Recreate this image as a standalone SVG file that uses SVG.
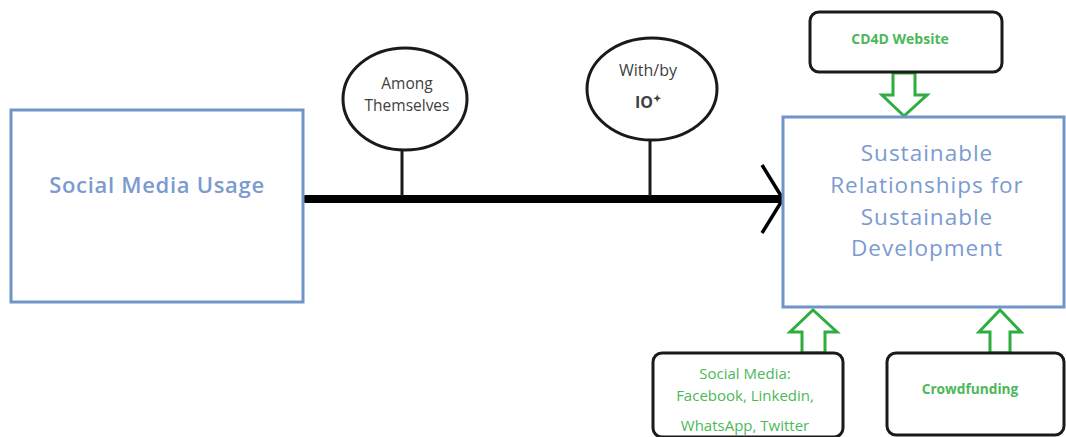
<svg xmlns="http://www.w3.org/2000/svg" width="1066" height="437" viewBox="0 0 1066 437">
<style>
.bbox{fill:#fff;stroke:#7094c8;stroke-width:3}
.rbox{fill:#fff;stroke:#1a1a1a;stroke-width:3}
.ell{fill:#fff;stroke:#1a1a1a;stroke-width:3}
.btxt{font-family:"Open Sans","Noto Sans",sans-serif;fill:#7b9bd0;text-anchor:middle}
.gtxt{font-family:"Open Sans","Noto Sans",sans-serif;fill:#4cb85a;text-anchor:middle}
.dtxt{font-family:"Open Sans","Noto Sans",sans-serif;fill:#404040;text-anchor:middle}
.garrow{fill:#fff;stroke:#2fae3f;stroke-width:3;stroke-linejoin:miter}
.stem{stroke:#1a1a1a;stroke-width:3}
</style>
<rect width="1066" height="437" fill="#fff"/>
<g id="connectors">
<line x1="306" y1="199" x2="781" y2="199" stroke="#000" stroke-width="8" stroke-linecap="round"/>
<polyline points="762,165 783,199 762,233" fill="none" stroke="#000" stroke-width="3.5"/>
<line class="stem" x1="402" y1="150" x2="402" y2="196"/>
<line class="stem" x1="650" y1="140" x2="650" y2="196"/>
<polygon class="garrow" points="893,73 915,73 915,95 927,95 904,116 882,95 893,95"/>
<polygon class="garrow" points="802,353 825,353 825,332 837,332 813,310 790,332 802,332"/>
<polygon class="garrow" points="990,353 1010,353 1010,332 1021,332 1000,310 979,332 990,332"/>
</g>
<g id="social-media-usage">
<rect class="bbox" x="11" y="110" width="292" height="192"/>
<text class="btxt" x="157" y="193" font-size="22" font-weight="600" letter-spacing="0.7" fill="#6d8fc9">Social Media Usage</text>
</g>
<g id="sustainable">
<rect class="bbox" x="783" y="117" width="281" height="190"/>
<text class="btxt" x="927" y="161" font-size="22.5" letter-spacing="1" fill="#8eaadb">Sustainable</text>
<text class="btxt" x="927" y="193" font-size="22.5" letter-spacing="1" fill="#8eaadb">Relationships for</text>
<text class="btxt" x="927" y="225" font-size="22.5" letter-spacing="1" fill="#8eaadb">Sustainable</text>
<text class="btxt" x="927" y="256" font-size="22.5" letter-spacing="1" fill="#8eaadb">Development</text>
</g>
<g id="among-themselves">
<ellipse class="ell" cx="405" cy="99" rx="62" ry="51"/>
<text class="dtxt" x="407" y="89" font-size="15.5">Among</text>
<text class="dtxt" x="407" y="111" font-size="15.5">Themselves</text>
</g>
<g id="with-by-io">
<ellipse class="ell" cx="652" cy="89" rx="65" ry="51"/>
<text class="dtxt" x="648" y="76" font-size="16">With/by</text>
<text class="dtxt" x="648" y="108" font-size="16" font-weight="bold" fill="#111">IO<tspan font-size="10" dy="-6">✦</tspan></text>
</g>
<g id="cd4d-website">
<rect class="rbox" x="810" y="12" width="192" height="60" rx="9"/>
<text class="gtxt" x="900" y="44" font-size="14" font-weight="bold">CD4D Website</text>
</g>
<g id="social-media-list">
<rect class="rbox" x="653" y="353" width="190" height="84" rx="9"/>
<text class="gtxt" x="745" y="379" font-size="15">Social Media:</text>
<text class="gtxt" x="745" y="401" font-size="15">Facebook, Linkedin,</text>
<text class="gtxt" x="745" y="431" font-size="15">WhatsApp, Twitter</text>
</g>
<g id="crowdfunding">
<rect class="rbox" x="887" y="353" width="177" height="82" rx="9"/>
<text class="gtxt" x="970" y="394" font-size="13.7" font-weight="bold">Crowdfunding</text>
</g>
</svg>
